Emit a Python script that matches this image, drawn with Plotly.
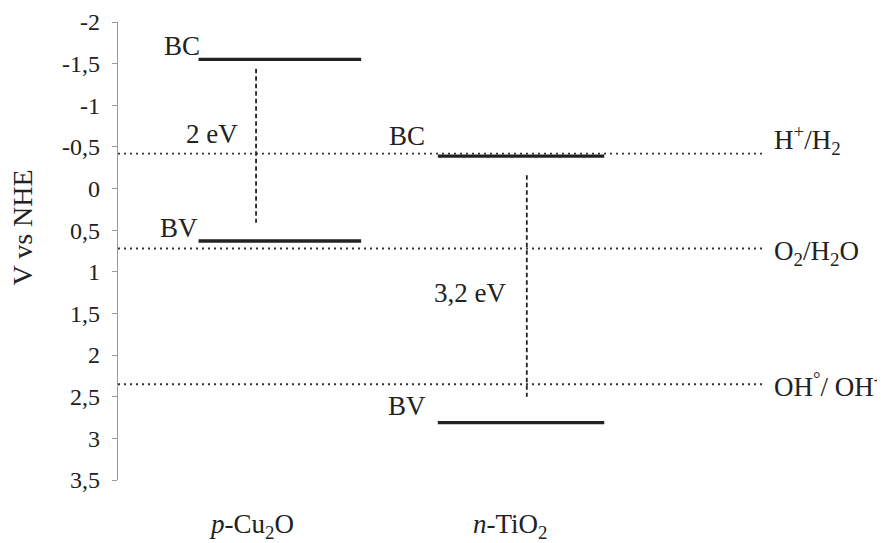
import plotly.graph_objects as go

# potentials (V vs NHE)
materials = ["p-Cu2O", "n-TiO2"]
bc_levels = [-1.55, -0.39]
bv_levels = [0.63, 2.81]
gap_tops = [-1.44, -0.16]
gap_bottoms = [0.41, 2.50]
gap_labels = ["2 eV", "3,2 eV"]

redox_names = ["H<sup>+</sup>/H<sub>2</sub>", "O<sub>2</sub>/H<sub>2</sub>O", "OH<sup>°</sup>/ OH<sup>-</sup>"]
redox_levels = [-0.42, 0.72, 2.35]

tick_vals = [-2, -1.5, -1, -0.5, 0, 0.5, 1, 1.5, 2, 2.5, 3, 3.5]
tick_text = ["-2", "-1,5", "-1", "-0,5", "0", "0,5", "1", "1,5", "2", "2,5", "3", "3,5"]

# schematic horizontal layout (arbitrary units 0..10)
level_x = [(1.05, 3.17), (4.17, 6.34)]
gap_x = [1.8, 5.33]
cat_x = [1.74, 5.12]
cat_labels = ["<i>p</i>-Cu<sub>2</sub>O", "<i>n</i>-TiO<sub>2</sub>"]
redox_end = 8.41

FONT = "'Liberation Serif', 'Times New Roman', Times, serif"
INK = "#222222"

fig = go.Figure()

# redox dotted lines
for lvl in redox_levels:
    fig.add_trace(go.Scatter(x=[0, redox_end], y=[lvl, lvl], mode="lines",
                             line=dict(color="#333333", width=1.8, dash="2px,4px"),
                             showlegend=False, hoverinfo="skip"))

# band edges
for (x0, x1), bc, bv in zip(level_x, bc_levels, bv_levels):
    for lvl in (bc, bv):
        fig.add_trace(go.Scatter(x=[x0, x1], y=[lvl, lvl], mode="lines",
                                 line=dict(color=INK, width=3.3),
                                 showlegend=False, hoverinfo="skip"))

# band gaps (dashed)
for gx, t, b in zip(gap_x, gap_tops, gap_bottoms):
    fig.add_trace(go.Scatter(x=[gx, gx], y=[t, b], mode="lines",
                             line=dict(color=INK, width=1.8, dash="4.5px,3px"),
                             showlegend=False, hoverinfo="skip"))

lab = dict(font=dict(family=FONT, size=27, color=INK), showarrow=False, yanchor="middle")
ann = [
    # BC / BV labels
    dict(x=1.10, y=-1.71, text="BC", xanchor="right", **lab),
    dict(x=1.07, y=0.47, text="BV", xanchor="right", **lab),
    dict(x=4.03, y=-0.63, text="BC", xanchor="right", **lab),
    dict(x=4.04, y=2.61, text="BV", xanchor="right", **lab),
    # gap labels
    dict(x=1.59, y=-0.65, text=gap_labels[0], xanchor="right", **lab),
    dict(x=5.08, y=1.25, text=gap_labels[1], xanchor="right", **lab),
]
# redox labels
label_y = [-0.58, 0.77, 2.36]
for name, ly in zip(redox_names, label_y):
    ann.append(dict(x=8.53, y=ly, text=name, xanchor="left", **lab))

# material labels
for cx, cl in zip(cat_x, cat_labels):
    ann.append(dict(x=cx, y=-0.10, xref="x", yref="paper", text=cl, xanchor="center", **lab))

# y axis title
ann.append(dict(x=-0.124, y=0.551, xref="paper", yref="paper", text="V vs NHE", textangle=-90,
                xanchor="center", yanchor="middle", showarrow=False,
                font=dict(family=FONT, size=28, color=INK)))

fig.update_layout(
    width=885, height=543,
    margin=dict(l=110, r=8, t=14, b=71),
    plot_bgcolor="white", paper_bgcolor="white",
    font=dict(family=FONT),
    annotations=ann,
    xaxis=dict(range=[0, 10], visible=False, automargin=False),
    yaxis=dict(range=[3.5, -2], tickvals=tick_vals, ticktext=tick_text, automargin=False,
               showgrid=False, zeroline=False, showline=True, linecolor="#9a9a9a", linewidth=1.2,
               ticks="outside", ticklen=5, tickcolor="#9a9a9a", ticklabelstandoff=7,
               tickfont=dict(family=FONT, size=24, color=INK)),
)

fig.write_html("out.html")
